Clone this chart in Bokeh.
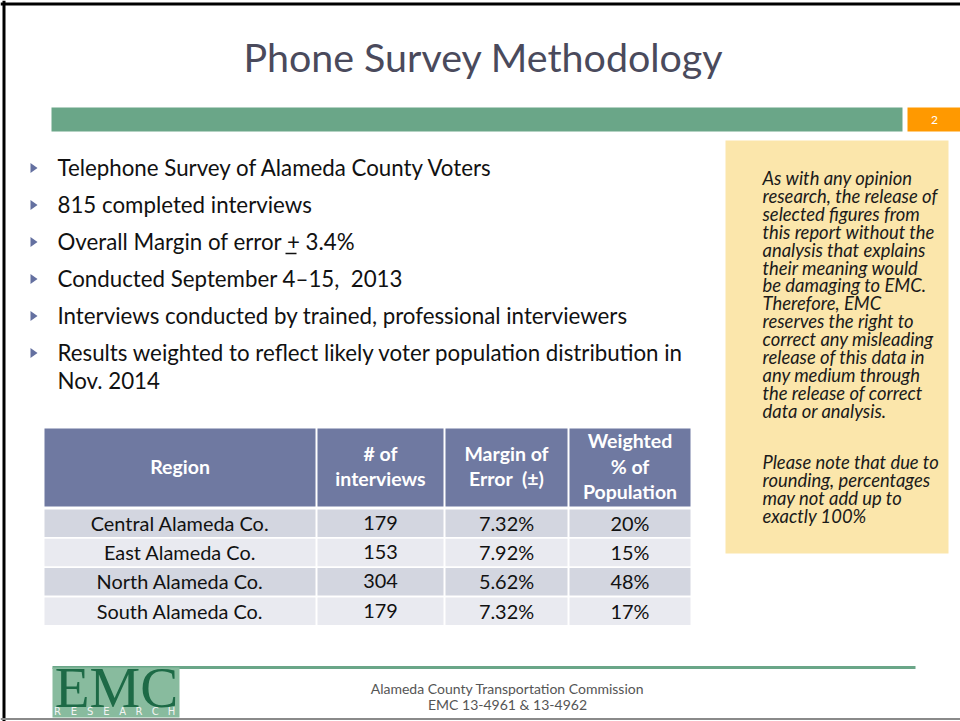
import numpy as np
from bokeh.plotting import figure
from bokeh.models import ColumnDataSource, Range1d
from bokeh.core.properties import value
from bokeh.embed import file_html
from bokeh.resources import INLINE

# ---------------- content ----------------
title = "Phone Survey Methodology"
slide_number = "2"
bullets = [
    "Telephone Survey of Alameda County Voters",
    "815 completed interviews",
    "Overall Margin of error + 3.4%",
    "Conducted September 4\u201315,\u00a0 2013",
    "Interviews conducted by trained, professional interviewers",
    "Results weighted to reflect likely voter population distribution in",
]
bullet_continuation = "Nov. 2014"
disclaimer = [
    "As with any opinion",
    "research, the release of",
    "selected figures from",
    "this report without the",
    "analysis that explains",
    "their meaning would",
    "be damaging to EMC.",
    "Therefore, EMC",
    "reserves the right to",
    "correct any misleading",
    "release of this data in",
    "any medium through",
    "the release of correct",
    "data or analysis.",
]
note = [
    "Please note that due to",
    "rounding, percentages",
    "may not add up to",
    "exactly 100%",
]
header = [["Region"], ["# of", "interviews"], ["Margin of", "Error\u00a0 (\u00b1)"], ["Weighted", "% of", "Population"]]
regions = ["Central Alameda Co.", "East Alameda Co.", "North Alameda Co.", "South Alameda Co."]
interviews = [179, 153, 304, 179]
margin_of_error = [7.32, 7.92, 5.62, 7.32]
weighted_pct = [20, 15, 48, 17]
footer_lines = ["Alameda County Transportation Commission", "EMC 13-4961 & 13-4962"]
logo_word = "EMC"
logo_sub = "RESEARCH"

# ---------------- styling ----------------
FONT = "Lato"
TITLE_C = "#4a4a5c"
GREEN = "#6aa688"
ORANGE = "#ff9900"
YELLOW = "#fbe6ab"
HEAD_C = "#6f79a1"
ROW_C = ["#d3d6e0", "#e9eaf0"]
BULLET_C = "#6470a0"

W, H = 960, 721
p = figure(width=W, height=H, x_range=Range1d(0, W), y_range=Range1d(H, 0),
           output_backend="svg", toolbar_location=None, x_axis_type=None, y_axis_type=None,
           min_border=0, outline_line_color=None)
p.grid.visible = False
p.background_fill_color = "white"
p.border_fill_color = "white"


def txt(xs, centers, texts, size, color="#111111", align="left", style="normal", font=FONT):
    """Place texts so that their capital letters are centred on the given y."""
    ys = [c - 0.04 * size for c in centers]
    src = ColumnDataSource(dict(x=list(xs), y=ys, t=list(texts)))
    p.text(x="x", y="y", text="t", source=src, text_font=value(font), text_font_size=f"{size}px",
           text_color=color, text_align=align, text_baseline="alphabetic", text_font_style=style)


# slide border
p.segment(x0=[0], y0=[3.5], x1=[W], y1=[3.5], line_color="black", line_width=3)
p.segment(x0=[3.5], y0=[0], x1=[3.5], y1=[H], line_color="black", line_width=3)
p.segment(x0=[0], y0=[718.5], x1=[W], y1=[718.5], line_color="#8a8a8a", line_width=2)

# title
txt([483], [58], [title], 39.4, color=TITLE_C, align="center")

# header bars
p.quad(left=[51], right=[902], top=[107], bottom=[131], fill_color=GREEN, line_color=None)
p.quad(left=[907], right=[962], top=[107], bottom=[131], fill_color=ORANGE, line_color=None)
txt([934], [120], [slide_number], 12, color="white", align="center")

# bullets
bc = [167.5 + 37 * i for i in range(len(bullets))]
p.patches(xs=[[30, 37, 30] for _ in bc], ys=[[c - 5, c, c + 5] for c in bc],
          fill_color=BULLET_C, line_color=None)
txt([57] * (len(bullets) + 1), bc + [bc[-1] + 28], bullets + [bullet_continuation], 22.3)
# underline under "+"
p.segment(x0=[285], y0=[253], x1=[296], y1=[253], line_color="#111111", line_width=1.5)

# disclaimer box
p.quad(left=[725], right=[948], top=[140], bottom=[553], fill_color=YELLOW, line_color=None)
dy = [178 + 17.95 * i for i in range(len(disclaimer))]
ny = [462 + 18 * i for i in range(len(note))]
txt([762] * (len(disclaimer) + len(note)), dy + ny, disclaimer + note, 18.4, style="italic", color="#1a1a1a")

# table
col_l = [44, 317, 445, 569]
col_r = [315, 443, 567, 690]
col_c = [(a + b) / 2 for a, b in zip(col_l, col_r)]
p.quad(left=col_l, right=col_r, top=[428] * 4, bottom=[506] * 4, fill_color=HEAD_C, line_color=None)
hx, hy, ht = [], [], []
for k, lines in enumerate(header):
    n = len(lines)
    for j, s in enumerate(lines):
        hx.append(col_c[k])
        hy.append(466.5 + (j - (n - 1) / 2) * 25.5)
        ht.append(s)
txt(hx, hy, ht, 19.5, color="white", align="center", style="bold")

row_top = [509 + 29.3 * i for i in range(len(regions))]
ql, qr, qt, qb, qc = [], [], [], [], []
for i, t in enumerate(row_top):
    for k in range(4):
        ql.append(col_l[k]); qr.append(col_r[k]); qt.append(t); qb.append(t + 27.5); qc.append(ROW_C[i % 2])
p.quad(left=ql, right=qr, top=qt, bottom=qb, fill_color=qc, line_color=None)
cx, cy, ct = [], [], []
for i, t in enumerate(row_top):
    cells = [regions[i], str(interviews[i]), f"{margin_of_error[i]:.2f}%", f"{weighted_pct[i]}%"]
    for k, s in enumerate(cells):
        cx.append(col_c[k]); cy.append(t + 14); ct.append(s)
txt(cx, cy, ct, 19.9, color="#111111", align="center")

# footer
p.segment(x0=[52], y0=[667], x1=[915], y1=[667], line_color=GREEN, line_width=3)
p.quad(left=[52], right=[179], top=[667], bottom=[717], fill_color="#88bb9e", line_color=None)
txt([116], [689], [logo_word], 57, color="#1d6a46", align="center", font="Liberation Serif")
sub = list(logo_sub)
txt([57 + 16.3 * i for i in range(len(sub))], [711] * len(sub), sub, 10, color="#f4f4f4",
    align="center", font="DejaVu Sans")
txt([507, 507], [689, 705], footer_lines, 14, color="#555555", align="center")

open("out.html", "w").write(file_html(p, INLINE))
